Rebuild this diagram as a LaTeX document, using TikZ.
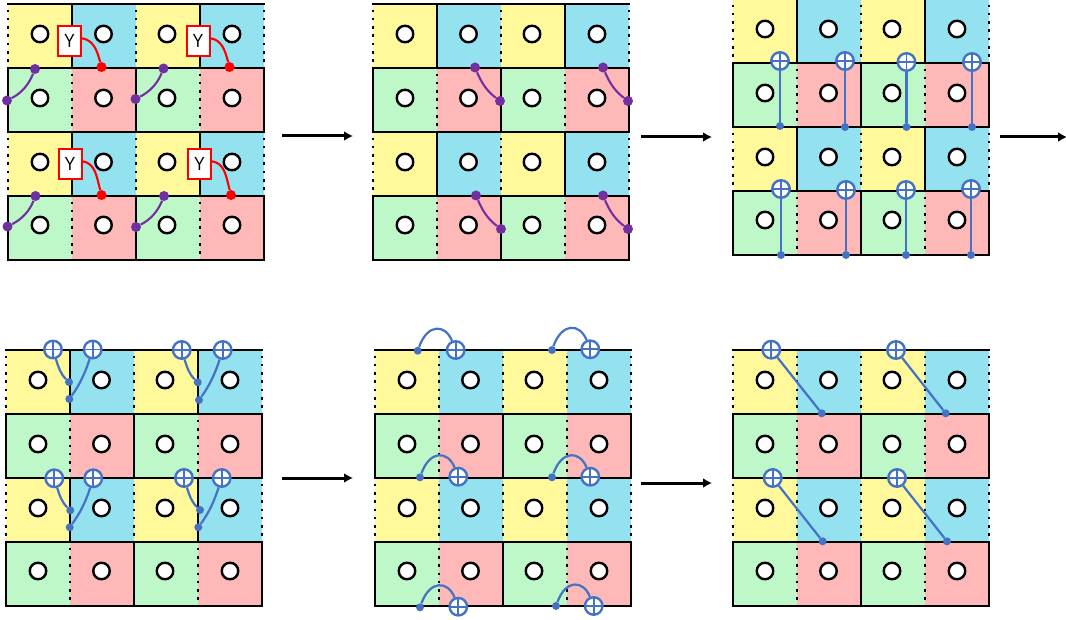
\documentclass[tikz,border=0pt]{standalone}
\usepackage{fontspec}
\setsansfont{Liberation Sans}
\usetikzlibrary{arrows.meta}
\definecolor{cellyellow}{HTML}{FFF99B}
\definecolor{cellblue}{HTML}{94E1F0}
\definecolor{cellgreen}{HTML}{BFF8C8}
\definecolor{cellpink}{HTML}{FFB8B8}
\definecolor{gatepurple}{HTML}{7030A0}
\definecolor{cnotblue}{HTML}{4472C4}
\tikzset{
  bond/.style={black,line width=2.7pt},
  dotbond/.style={black,line width=2.6pt,dash pattern=on 2.6pt off 5.7pt,dash phase=2.7pt},
  qubit/.style={circle,draw=black,fill=white,line width=2.4pt,minimum size=16.5pt,inner sep=0pt},
  ybox/.style={draw=red,fill=white,line width=2pt,minimum width=23pt,minimum height=30pt,inner sep=0pt,font=\sffamily\fontsize{19}{19}\selectfont},
  reddot/.style={circle,fill=red,minimum size=10pt,inner sep=0pt},
  purpledot/.style={circle,fill=gatepurple,minimum size=10pt,inner sep=0pt},
  bluedot/.style={circle,fill=cnotblue,minimum size=8pt,inner sep=0pt},
  redwire/.style={red,line width=2.1pt},
  purplewire/.style={gatepurple,line width=2.1pt},
  bluewire/.style={cnotblue,line width=2.2pt},
  oplus/.style={circle,draw=cnotblue,fill=white,line width=2.4pt,minimum size=17.5pt,inner sep=0pt,
    path picture={\draw[cnotblue,line width=1.8pt] (path picture bounding box.north) -- (path picture bounding box.south) (path picture bounding box.west) -- (path picture bounding box.east);}},
  stagearrow/.style={black,line width=3pt,-{Latex[length=9pt,width=10pt]}}
}
% #1 panel name, #2 #3 top left corner, #4 edge between the two colours of rows 0 and 2
\newcommand{\gridpanel}[4]{
  \begin{scope}[shift={(#2,#3)}]
    \foreach \r in {0,128} \foreach \c in {0,128} {
      \fill[cellyellow] (\c,\r) rectangle ++(64,64); \fill[cellblue] (\c+64,\r) rectangle ++(64,64);
      \fill[cellgreen] (\c,\r+64) rectangle ++(64,64); \fill[cellpink] (\c+64,\r+64) rectangle ++(64,64);
    }
    \foreach \r in {0,128} {
      \foreach \c in {0,128,256} {\draw[dotbond] (\c,\r) -- (\c,\r+64); \draw[bond] (\c,\r+64) -- (\c,\r+128);}
      \foreach \c in {64,192} {\draw[#4] (\c,\r) -- (\c,\r+64); \draw[dotbond] (\c,\r+64) -- (\c,\r+128);}
    }
    \foreach \r in {0,64,128,192,256} \draw[bond] (-1,\r) -- (257,\r);
    \foreach \c/\qx in {0/32,1/95.5,2/159,3/224} \foreach \r/\qy in {0/30,1/94,2/158,3/221}
      \node[qubit] (#1q\r\c) at (\qx,\qy) {};
  \end{scope}
}
\begin{document}
\begin{tikzpicture}[x=1pt,y=-1pt]
  \useasboundingbox (0,0) rectangle (1066,620);
  \gridpanel{a}{8}{4}{bond} \gridpanel{b}{373}{4}{bond} \gridpanel{c}{733}{-1}{bond}
  \gridpanel{d}{6}{350}{bond} \gridpanel{e}{375}{350}{dotbond} \gridpanel{f}{733}{350}{dotbond}

  % panel a
  \foreach \n/\yx/\yy/\rx/\ry in {1/69.5/41/101.5/67, 2/198/41/229.5/67, 3/70/164/101.5/195, 4/199.5/164/231/195} {
    \node[ybox] (y\n) at (\yx,\yy) {\scalebox{0.85}[1]{Y}}; \node[reddot] (r\n) at (\rx,\ry) {};
    \draw[redwire] (y\n.12) to[out=-8,in=105] (r\n);
  }
  \foreach \n/\tx/\ty/\bx/\by in {1/35/69/7/100.5, 2/163.5/68.5/135.5/99, 3/35.5/196/7.5/226.5, 4/164/196/136/227} {
    \node[purpledot] (pt\n) at (\tx,\ty) {}; \node[purpledot] (pb\n) at (\bx,\by) {};
    \draw[purplewire] (pt\n) to[out=-112,in=27,looseness=0.9] (pb\n);
  }
  % panel b
  \foreach \n/\tx/\ty/\bx/\by in {5/475/67.5/500/101, 6/603/67.5/628/101, 7/476/195.5/501/229, 8/603/195.5/628/229} {
    \node[purpledot] (pt\n) at (\tx,\ty) {}; \node[purpledot] (pb\n) at (\bx,\by) {};
    \draw[purplewire] (pt\n) to[out=-67,in=143,looseness=0.9] (pb\n);
  }
  % panel c and panel f
  \foreach \n/\tx/\ty/\dx/\dy in {1/780/61/780/126, 2/845/61/845/127, 3/906.5/62/906.5/127, 4/972/62/972/127, 5/781/189/781/255, 6/846/190/846/255, 7/906/190/906/255, 8/971/189/971/255,
    9/771.3/349.7/821.7/413.3, 10/896/350/945.7/413.3, 11/772.7/478/822.7/541.3, 12/897/478/947/541.3} {
    \node[oplus] (t\n) at (\tx,\ty) {}; \node[bluedot] (s\n) at (\dx,\dy) {};
    \draw[bluewire] (t\n) -- (s\n);
  }
  % panel d
  \foreach \n/\tx/\ty/\dx/\dy in {13/53/349.5/69/382, 14/181.7/350/197.7/382.3, 15/54.3/478.3/70.3/510.3, 16/184/478/200/510} {
    \node[oplus] (t\n) at (\tx,\ty) {}; \node[bluedot] (s\n) at (\dx,\dy) {};
    \draw[bluewire] (t\n) to[out=-73,in=136,looseness=0.9] (s\n);
  }
  \foreach \n/\tx/\ty/\dx/\dy in {17/92.7/349.5/69.3/399, 18/222.7/350/199/400, 19/93.3/478.3/69.7/527.3, 20/221.7/478/198.3/527.3} {
    \node[oplus] (t\n) at (\tx,\ty) {}; \node[bluedot] (s\n) at (\dx,\dy) {};
    \draw[bluewire] (t\n) to[out=-108,in=54,looseness=0.9] (s\n);
  }
  % panel e
  \foreach \n/\tx/\ty/\dx/\dy in {21/455.7/350/417.7/350.7, 22/590.3/349.3/552/350, 23/458.3/476.7/420/477.3, 24/590.3/476.7/552/477.3, 25/458.3/606.7/420/607.3, 26/593.7/606/556/606} {
    \node[oplus] (t\n) at (\tx,\ty) {}; \node[bluedot] (s\n) at (\dx,\dy) {};
    \draw[bluewire] (s\n) to[out=70,in=112,out looseness=1.9,in looseness=1.4] (t\n);
  }
  % arrows between panels
  \foreach \n/\ax/\ay/\bx in {1/282/136/353, 2/641/137/712, 3/1000/137/1067, 4/282/478/353, 5/641/483/712} {
    \coordinate (from\n) at (\ax,\ay); \coordinate (to\n) at (\bx,\ay);
    \draw[stagearrow] (from\n) -- (to\n);
  }
\end{tikzpicture}
\end{document}
